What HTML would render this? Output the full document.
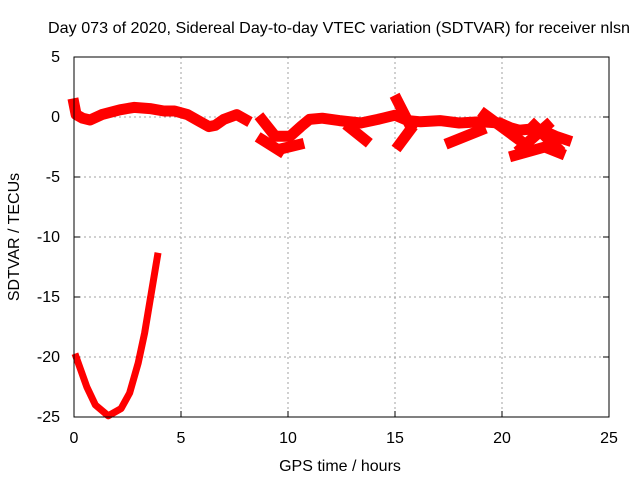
<!DOCTYPE html>
<html><head><meta charset="utf-8"><style>
body{margin:0;background:#fff}
svg text{font-family:"Liberation Sans",sans-serif;font-size:16px;fill:#000}
</style></head><body>
<svg id="chart" width="640" height="480">
<text x="339" y="33" text-anchor="middle" textLength="582" lengthAdjust="spacingAndGlyphs">Day 073 of 2020, Sidereal Day-to-day VTEC variation (SDTVAR) for receiver nlsn</text>
<text x="340" y="471" text-anchor="middle">GPS time / hours</text>
<text transform="translate(19,237) rotate(-90)" text-anchor="middle">SDTVAR / TECUs</text>
<g id="grid"></g><g id="ticks"></g><g id="series"></g>
<rect x="74" y="57" width="535" height="360" fill="none" stroke="#000" stroke-width="1"/>
</svg>
<script>
const xTicks=[0,5,10,15,20,25];
const yTicks=[5,0,-5,-10,-15,-20,-25];
const segMain=[[0,1.1],[0.1,0.2],[0.4,-0.1],[0.75,-0.25],[1.3,0.2],[2.15,0.6],[2.8,0.8],[3.55,0.7],[4.2,0.5],[4.7,0.5],[5.3,0.2],[5.9,-0.4],[6.3,-0.8],[6.6,-0.7],[7.0,-0.2],[7.6,0.2],[8,-0.2]];
const segMid=[[8.8,-0.25],[9.4,-1.6],[10.1,-1.6],[10.6,-0.8],[11,-0.2],[11.6,-0.1],[12.4,-0.3],[13.4,-0.5],[14.2,-0.2],[15,0.15],[15.6,-0.3],[16.2,-0.4],[17.1,-0.3],[18,-0.5],[19,-0.4],[19.9,-0.5],[20.4,-0.9],[20.8,-1.1],[21.4,-1.0],[22,-1.2],[22.5,-1.6],[23,-1.9]];
const segB1=[[8.8,-1.9],[9.6,-2.8]];
const segB2=[[9.8,-2.6],[10.5,-2.3]];
const segB3=[[12.9,-0.9],[13.6,-1.9]];
const segB4=[[15.1,1.4],[15.7,-0.7]];
const segB5=[[15.2,-2.3],[15.7,-1.1]];
const segB6=[[17.6,-2.1],[19,-1.1]];
const segB7=[[19.2,0.2],[20.8,-1.9]];
const segB8=[[20.6,-3.2],[22,-2.5],[22.7,-3.0]];
const segB9=[[21.5,-0.7],[22.6,-2.6]];
const segB10=[[20.9,-2.6],[22.1,-0.7]];
const segLow=[[0.1,-20],[0.3,-21],[0.6,-22.5],[1.0,-24],[1.6,-24.9],[2.2,-24.3],[2.6,-23],[3.0,-20.5],[3.3,-18],[3.6,-14.8],[3.9,-11.6]];
const allSegs=[segMain,segMid,segB1,segB2,segB3,segB4,segB5,segB6,segB7,segB8,segB9,segB10,segLow];
const NS='http://www.w3.org/2000/svg';
const X=t=>74+t*21.4, Y=v=>117-v*12;
const g=document.getElementById('grid'),tk=document.getElementById('ticks'),sr=document.getElementById('series');
function mk(tag,at,p){const e=document.createElementNS(NS,tag);for(const k in at)e.setAttribute(k,at[k]);p.appendChild(e);return e;}
xTicks.forEach(t=>{
 if(t>0&&t<25){const l=mk('line',{x1:X(t),x2:X(t),y1:57,y2:417,stroke:'#a0a0a0','stroke-dasharray':'2,3'},g);
 
 }
 const m=mk('line',{x1:X(t),x2:X(t),y1:417,y2:411,stroke:'#000'},tk);
 
 
 const tx=mk('text',{x:X(t),y:443,'text-anchor':'middle'},tk);tx.textContent=t;
 
 
});
yTicks.forEach(v=>{
 if(v<5&&v>-25){const l=mk('line',{x1:74,x2:609,y1:Y(v),y2:Y(v),stroke:'#a0a0a0','stroke-dasharray':'2,3'},g);
 
 }
 const m=mk('line',{x1:74,x2:80,y1:Y(v),y2:Y(v),stroke:'#000'},tk);
 
 
 const m2=mk('line',{x1:603,x2:609,y1:Y(v),y2:Y(v),stroke:'#000'},tk);
 
 
 const tx=mk('text',{x:60,y:Y(v)+5,'text-anchor':'end'},tk);tx.textContent=v;
 
 
});
allSegs.forEach((s,i)=>{
 const pl=mk('polyline',{points:s.map(p=>X(p[0])+','+Y(p[1])).join(' '),fill:'none',stroke:'#ff0000','stroke-width':s===segLow?7:11,'stroke-linejoin':'round','stroke-linecap':'square'},sr);
 
 
});
</script>
</body></html>
